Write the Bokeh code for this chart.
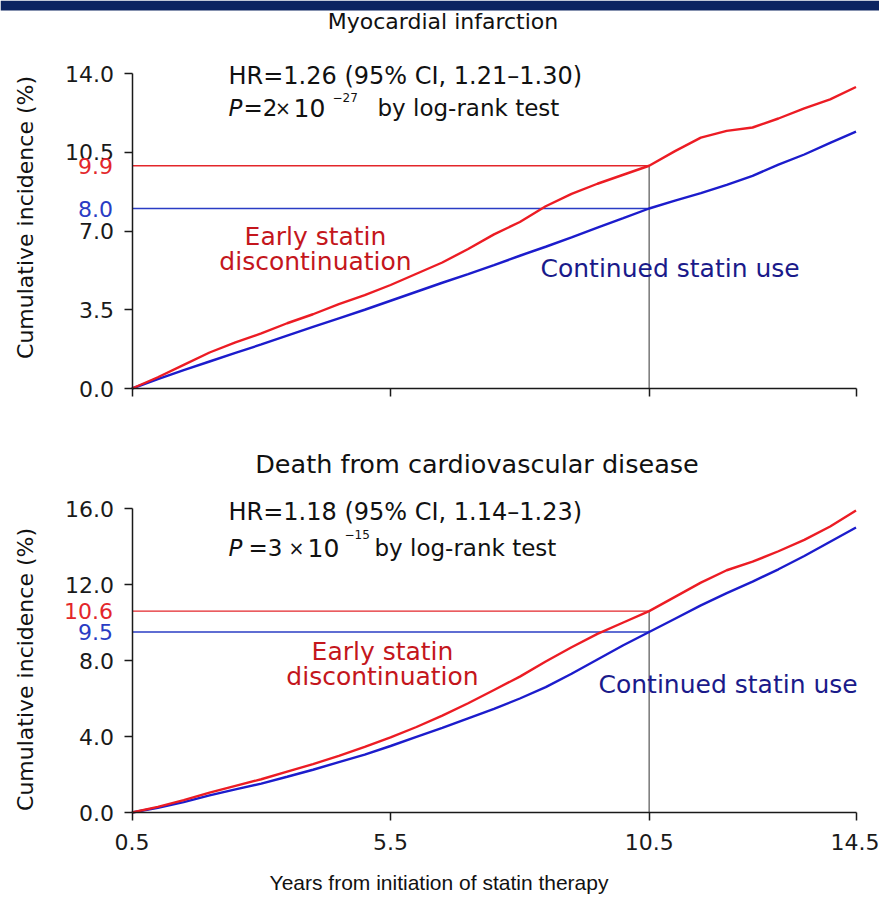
from math import pi
from bokeh.plotting import figure
from bokeh.models import (Label, FixedTicker, NumeralTickFormatter, Range1d, LinearAxis,
                          BoxAnnotation)
from bokeh.layouts import column
from bokeh.embed import file_html
from bokeh.resources import INLINE

# ---------------- data ----------------
years = [0.5, 1.0, 1.5, 2.0, 2.5, 3.0, 3.5, 4.0, 4.5, 5.0, 5.5, 6.0, 6.5, 7.0, 7.5,
         8.0, 8.5, 9.0, 9.5, 10.0, 10.5, 11.0, 11.5, 12.0, 12.5, 13.0, 13.5, 14.0, 14.5]

mi_early = [0.0, 0.5, 1.05, 1.6, 2.05, 2.45, 2.9, 3.3, 3.75, 4.15, 4.6, 5.1, 5.6, 6.2, 6.85,
            7.4, 8.1, 8.65, 9.1, 9.5, 9.9, 10.55, 11.15, 11.45, 11.6, 12.0, 12.45, 12.85, 13.4]
mi_cont = [0.0, 0.42, 0.82, 1.2, 1.58, 1.96, 2.35, 2.74, 3.12, 3.5, 3.9, 4.3, 4.7, 5.08, 5.48,
           5.9, 6.3, 6.72, 7.15, 7.57, 8.0, 8.35, 8.68, 9.05, 9.45, 9.95, 10.4, 10.92, 11.42]

cvd_early = [0.0, 0.3, 0.65, 1.05, 1.4, 1.75, 2.15, 2.55, 2.98, 3.45, 3.95, 4.5, 5.1, 5.75, 6.45,
             7.15, 7.95, 8.7, 9.4, 10.0, 10.6, 11.35, 12.1, 12.75, 13.2, 13.75, 14.35, 15.05, 15.9]
cvd_cont = [0.0, 0.25, 0.55, 0.9, 1.22, 1.52, 1.88, 2.25, 2.65, 3.05, 3.5, 3.98, 4.45, 4.95, 5.45,
            6.0, 6.6, 7.3, 8.05, 8.8, 9.5, 10.2, 10.9, 11.55, 12.15, 12.8, 13.5, 14.25, 15.0]

x_ticks = [0.5, 5.5, 10.5, 14.5]
mi_y_ticks = [0.0, 3.5, 7.0, 10.5, 14.0]
cvd_y_ticks = [0.0, 4.0, 8.0, 12.0, 16.0]

mark_year = 10.5
mi_marks = [9.9, 8.0]      # early, continued at 10.5 years
cvd_marks = [10.6, 9.5]

mi_title = "Myocardial infarction"
cvd_title = "Death from cardiovascular disease"
mi_hr = "HR=1.26 (95% CI, 1.21\u20131.30)"
cvd_hr = "HR=1.18 (95% CI, 1.14\u20131.23)"
mi_p = ["2", "\u221227"]
cvd_p = ["3", "\u221215"]
y_label = "Cumulative incidence (%)"
x_label = "Years from initiation of statin therapy"

# ---------------- style / layout ----------------
RED = "#ec1c24"
BLUE = "#1c1ccc"
RED_TXT = "#c4161c"
BLUE_TXT = "#1a1a8a"
RED_TICK = "#e3262b"
BLUE_TICK = "#2a3cc4"
AX = "#1a1a1a"
TXT = "#111111"
NAVY = "#0c2461"
WIDE = "DejaVu Sans"
ARIAL = "Liberation Sans"

W = 879
FX0, FX1 = 131.5, 855.5          # pixel positions of x=0.5 and x=14.5


def panel(height, ymax, fy_top, fy_bot, yticks, early, cont, marks, title, hr, pvals, pos,
          show_x_labels, band=False):
    kx = (FX1 - FX0) / (x_ticks[-1] - x_ticks[0])
    ky = (fy_bot - fy_top) / ymax
    x0 = x_ticks[0] - FX0 / kx
    x1 = x_ticks[-1] + (W - FX1) / kx
    y1 = ymax + fy_top / ky
    y0 = -(height - fy_bot) / ky

    def X(px):
        return x0 + px / kx

    def Y(py):
        return y1 - py / ky

    p = figure(width=W, height=height, x_range=Range1d(x0, x1), y_range=Range1d(y0, y1),
               output_backend="svg", toolbar_location=None, x_axis_location=None,
               y_axis_location=None, min_border=0)
    p.xgrid.visible = False
    p.ygrid.visible = False
    p.outline_line_color = None
    p.background_fill_color = "white"
    p.border_fill_color = "white"

    if band:
        p.add_layout(BoxAnnotation(bottom=Y(10), fill_color=NAVY, fill_alpha=1.0,
                                   line_color=None))

    xax = LinearAxis(fixed_location=0.0, bounds=(x_ticks[0], x_ticks[-1]),
                     ticker=FixedTicker(ticks=x_ticks))
    yax = LinearAxis(fixed_location=x_ticks[0], bounds=(0.0, ymax),
                     ticker=FixedTicker(ticks=yticks))
    for ax in (xax, yax):
        ax.axis_line_color = AX
        ax.axis_line_width = 1.5
        ax.major_tick_line_color = AX
        ax.major_tick_line_width = 1.5
        ax.major_tick_out = 8
        ax.major_tick_in = 0
        ax.minor_tick_line_color = None
        ax.major_label_text_font = WIDE
        ax.major_label_text_font_size = "22px"
        ax.major_label_text_color = AX
        ax.formatter = NumeralTickFormatter(format="0.0")
    yax.major_label_standoff = 10
    xax.major_label_standoff = 13
    if not show_x_labels:
        xax.major_label_overrides = {t: "" for t in x_ticks}
    p.add_layout(xax, "below")
    p.add_layout(yax, "left")

    # reference lines
    p.segment(x0=[x_ticks[0], x_ticks[0]], y0=marks, x1=[mark_year, mark_year], y1=marks,
              line_color=[RED_TICK, BLUE_TICK], line_width=1.3)
    p.segment(x0=[mark_year], y0=[0], x1=[mark_year], y1=[marks[0]],
              line_color="#555555", line_width=1.2)

    # curves
    p.line(years, cont, line_color=BLUE, line_width=2.4)
    p.line(years, early, line_color=RED, line_width=2.4)

    # coloured values at left
    for v, c in zip(marks, [RED_TICK, BLUE_TICK]):
        p.add_layout(Label(x=x_ticks[0], y=v, x_offset=-19, text=f"{v:.1f}", text_align="right",
                           text_baseline="middle", text_font=WIDE, text_font_size="22px",
                           text_color=c))

    def lab(px, py, text, **kw):
        args = dict(text_font=WIDE, text_font_size="23px", text_baseline="middle",
                    text_color=TXT)
        args.update(kw)
        p.add_layout(Label(x=X(px), y=Y(py), text=text, **args))

    tx, ty, tfont, tsize = pos["title"]
    lab(tx, ty, title, text_align="center", text_font=tfont, text_font_size=tsize)
    lab(228, pos["hr"], hr, text_font_size="24px")
    lab(228, pos["p"], "P", text_font_style="italic")
    lab(pos["eq"], pos["p"], "=" + pvals[0])
    lab(pos["times"], pos["p"], "\u00d7", text_align="center", text_font_size="19px")
    lab(pos["ten"], pos["p"], "10", text_font_size="25px")
    lab(pos["sup"][0], pos["sup"][1], pvals[1], text_font_size="12px")
    lab(pos["by"], pos["p"], "by log-rank test")
    ex, ey1, ey2 = pos["early"]
    lab(ex, ey1, "Early statin", text_align="center", text_font_size="25px", text_color=RED_TXT)
    lab(ex, ey2, "discontinuation", text_align="center", text_font_size="25px",
        text_color=RED_TXT)
    lab(pos["cont"][0], pos["cont"][1], "Continued statin use", text_font_size="25px",
        text_color=BLUE_TXT)
    lab(25, pos["ylab"], y_label, angle=pi / 2, text_align="center", text_font_size="22px")
    if show_x_labels:
        lab(438.5, pos["xlab"], x_label, text_align="center", text_font=ARIAL,
            text_font_size="21px")
    return p


pos1 = dict(title=(442.5, 21, WIDE, "22px"), hr=75, p=107.5, eq=243, times=282.5, ten=293,
            sup=(332, 97), by=377, early=(315, 236, 261), cont=(540, 268), ylab=217)
p1 = panel(440, 14.0, 73, 388, mi_y_ticks, mi_early, mi_cont, mi_marks, mi_title, mi_hr, mi_p,
           pos1, show_x_labels=False, band=True)

pos2 = dict(title=(476.5, 23.5, WIDE, "25.5px"), hr=71.5, p=107.5, eq=248, times=296, ten=307,
            sup=(344, 94), by=374, early=(382, 211, 236), cont=(598, 244), ylab=229,
            xlab=441.5)
p2 = panel(456, 16.0, 68, 372, cvd_y_ticks, cvd_early, cvd_cont, cvd_marks, cvd_title, cvd_hr,
           cvd_p, pos2, show_x_labels=True)

layout = column(p1, p2, spacing=0)
open("out.html", "w").write(file_html(layout, INLINE))
